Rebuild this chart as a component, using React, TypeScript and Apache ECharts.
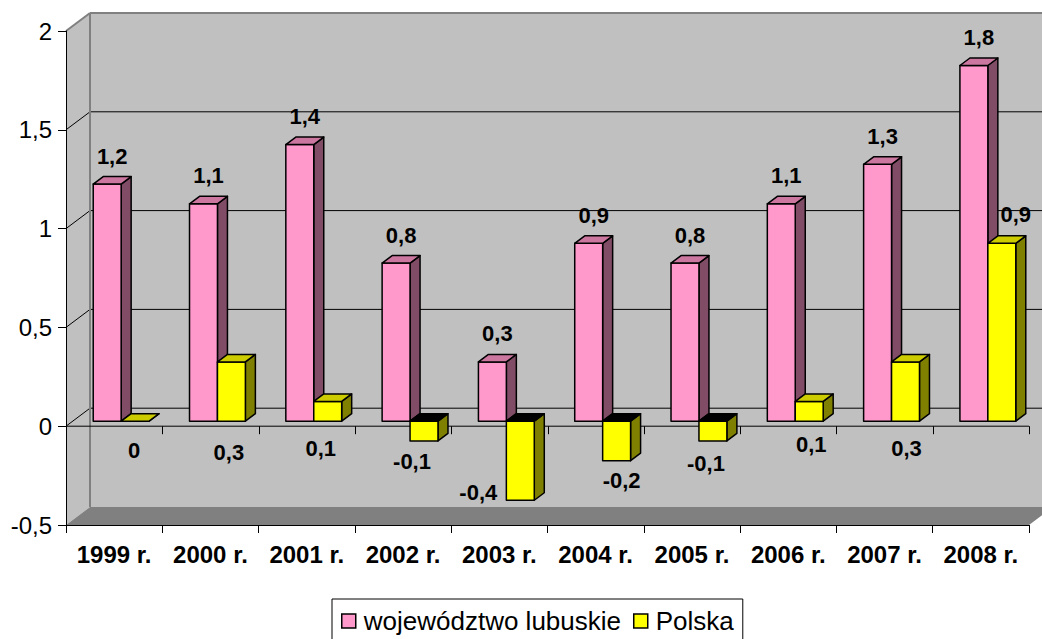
import React, { useEffect, useRef } from "react";
import * as echarts from "echarts";

// ---------- data ----------
const categories = ["1999 r.", "2000 r.", "2001 r.", "2002 r.", "2003 r.", "2004 r.", "2005 r.", "2006 r.", "2007 r.", "2008 r."];
const lubuskie = [1.2, 1.1, 1.4, 0.8, 0.3, 0.9, 0.8, 1.1, 1.3, 1.8];
const polska = [0, 0.3, 0.1, -0.1, -0.4, -0.2, -0.1, 0.1, 0.3, 0.9];
const seriesNames = ["województwo lubuskie", "Polska"];
const Y_MIN = -0.5;
const Y_MAX = 2;
const Y_STEP = 0.5;
const gridValues = [0, 0.5, 1, 1.5];

// ---------- layout / style ----------
const FONT = '"Liberation Sans", Arial, sans-serif';
const DEPTH = { dx: 24, dy: -18 };
const BAR_OFF = { dx: 7, dy: -5 };
const BAR_DEPTH = { dx: 10, dy: -7.5 };
const BAR_W = 0.29;
const PINK_LABEL = { dx: 5, dy: -28 };
// label offsets (px) for the "Polska" labels, relative to the bar's zero level
const polskaLabelShift = [
  [-1, 29], [-2.5, 31], [-7, 27], [-12, 40], [-42, 71],
  [5, 59], [-7, 42], [2, 23], [1, 27], [14, -207],
];
const COLORS = [
  { front: "#ff99cc", top: "#cc77a0", side: "#804c66" },
  { front: "#ffff00", top: "#cccc00", side: "#808000" },
];

const fmt = (v: number) => String(v).replace(".", ",");

function renderFrame(params: any, api: any) {
  const cs = params.coordSys;
  const x0 = cs.x;
  const x1 = cs.x + cs.width;
  const yT = api.coord([0, Y_MAX])[1];
  const yB = api.coord([0, Y_MIN])[1];
  const y0 = api.coord([0, 0])[1];
  const band = api.size([1, 0])[0];
  const { dx, dy } = DEPTH;
  const children: any[] = [];
  children.push({
    type: "polygon",
    shape: { points: [[x0 + dx, yT + dy], [x1 + dx, yT + dy], [x1 + dx, yB + dy], [x0 + dx, yB + dy]] },
    style: { fill: "#c0c0c0" },
  });
  children.push({
    type: "polygon",
    shape: { points: [[x0, yT], [x0 + dx, yT + dy], [x0 + dx, yB + dy], [x0, yB]] },
    style: { fill: "#c0c0c0" },
  });
  children.push({
    type: "polygon",
    shape: { points: [[x0, yB], [x0 + dx, yB + dy], [x1 + dx, yB + dy], [x1, yB]] },
    style: { fill: "#808080" },
  });
  gridValues.forEach((v) => {
    const y = api.coord([0, v])[1];
    children.push({
      type: "line",
      shape: { x1: x0 + dx, y1: y + dy, x2: x1 + dx, y2: y + dy },
      style: { stroke: "#000", lineWidth: 1 },
    });
    children.push({
      type: "line",
      shape: { x1: x0, y1: y, x2: x0 + dx, y2: y + dy },
      style: { stroke: "#000", lineWidth: 1 },
    });
  });
  const edge = { stroke: "#808080", lineWidth: 2 };
  children.push({ type: "line", shape: { x1: x0 + dx, y1: yT + dy, x2: x1 + dx, y2: yT + dy }, style: edge });
  children.push({ type: "line", shape: { x1: x0 + dx, y1: yT + dy, x2: x0 + dx, y2: yB + dy }, style: edge });
  children.push({ type: "line", shape: { x1: x0, y1: yT, x2: x0 + dx, y2: yT + dy }, style: edge });
  // front zero line with ticks
  children.push({ type: "line", shape: { x1: x0, y1: y0, x2: x1, y2: y0 }, style: { stroke: "#000", lineWidth: 1 } });
  for (let k = 1; k <= categories.length; k++) {
    const x = Math.round(x0 + k * band) + 0.5;
    children.push({ type: "line", shape: { x1: x, y1: y0, x2: x, y2: y0 + 8 }, style: { stroke: "#000", lineWidth: 1 } });
  }
  return { type: "group", children };
}

function makeBarRender(sIdx: number) {
  return (params: any, api: any) => {
    const i = api.value(0);
    const v = api.value(1);
    const c0 = api.coord([i, 0]);
    const cv = api.coord([i, v]);
    const band = api.size([1, 0])[0];
    const w = band * BAR_W;
    const x = c0[0] + (sIdx === 0 ? -w : 0) + BAR_OFF.dx;
    const yz = c0[1] + BAR_OFF.dy;
    const yv = cv[1] + BAR_OFF.dy;
    const top = Math.min(yz, yv);
    const bot = Math.max(yz, yv);
    const ddx = BAR_DEPTH.dx;
    const ddy = BAR_DEPTH.dy;
    const col = COLORS[sIdx];
    const line = { stroke: "#000", lineWidth: 1.5, lineJoin: "round" };
    const children: any[] = [];
    children.push({
      type: "polygon",
      shape: { points: [[x + w, top], [x + w + ddx, top + ddy], [x + w + ddx, bot + ddy], [x + w, bot]] },
      style: { fill: col.side, ...line },
    });
    if (bot - top > 0.5) {
      children.push({
        type: "rect",
        shape: { x, y: top, width: w, height: bot - top },
        style: { fill: col.front, ...line },
      });
    }
    children.push({
      type: "polygon",
      shape: { points: [[x, top], [x + ddx, top + ddy], [x + w + ddx, top + ddy], [x + w, top]] },
      style: { fill: v < 0 ? "#000" : col.top, ...line },
    });
    let lx: number;
    let ly: number;
    if (sIdx === 0) {
      lx = x + w / 2 + PINK_LABEL.dx;
      ly = yv + PINK_LABEL.dy;
    } else {
      const s = polskaLabelShift[i];
      lx = x + w / 2 + s[0];
      ly = yz + s[1];
    }
    children.push({
      type: "text",
      x: lx,
      y: ly,
      style: {
        text: fmt(v),
        fill: "#000",
        fontSize: 22,
        fontWeight: "bold",
        fontFamily: FONT,
        align: "center",
        verticalAlign: "middle",
        textAlign: "center",
        textVerticalAlign: "middle",
      },
    });
    return { type: "group", children };
  };
}

export default function App() {
  const ref = useRef<HTMLDivElement>(null);
  useEffect(() => {
    document.body.style.margin = "0";
    if (!ref.current) return;
    const chart = echarts.init(ref.current, undefined, { renderer: "svg" });
    chart.setOption({
      animation: false,
      backgroundColor: "#ffffff",
      grid: { left: 66, right: 13, top: 31, bottom: 114, containLabel: false },
      xAxis: {
        type: "category",
        data: categories,
        z: 10,
        axisLine: { onZero: false, lineStyle: { color: "#000", width: 1 } },
        axisTick: { show: true, length: 8, lineStyle: { color: "#000" } },
        axisLabel: { fontSize: 24, fontWeight: "bold", fontFamily: FONT, color: "#000", margin: 17, interval: 0 },
        splitLine: { show: false },
      },
      yAxis: {
        type: "value",
        min: Y_MIN,
        max: Y_MAX,
        interval: Y_STEP,
        z: 10,
        axisLine: { show: true, lineStyle: { color: "#000", width: 1 } },
        axisTick: { show: true, length: 8, lineStyle: { color: "#000" } },
        axisLabel: { fontSize: 24, fontFamily: FONT, color: "#000", margin: 14, formatter: (v: number) => fmt(v) },
        splitLine: { show: false },
      },
      legend: {
        data: [
          { name: seriesNames[0], itemStyle: { color: COLORS[0].front, borderColor: "#000", borderWidth: 1.5 } },
          { name: seriesNames[1], itemStyle: { color: COLORS[1].front, borderColor: "#000", borderWidth: 1.5 } },
        ],
        left: 332,
        top: 599,
        orient: "horizontal",
        icon: "rect",
        itemWidth: 14,
        itemHeight: 14,
        itemGap: 12,
        padding: [9, 9, 12, 9],
        borderColor: "#000",
        borderWidth: 1,
        backgroundColor: "#fff",
        selectedMode: false,
        textStyle: { fontSize: 26, fontFamily: FONT, color: "#000", padding: [0, 0, 0, 3] },
      },
      series: [
        {
          type: "custom",
          name: "frame",
          silent: true,
          z: 1,
          renderItem: renderFrame,
          data: [[0, 0]],
        },
        {
          type: "custom",
          name: seriesNames[0],
          z: 3,
          itemStyle: { color: COLORS[0].front },
          renderItem: makeBarRender(0),
          data: lubuskie.map((v, i) => [i, v]),
        },
        {
          type: "custom",
          name: seriesNames[1],
          z: 4,
          itemStyle: { color: COLORS[1].front },
          renderItem: makeBarRender(1),
          data: polska.map((v, i) => [i, v]),
        },
      ],
    });
    return () => chart.dispose();
  }, []);
  return <div ref={ref} style={{ width: 1042, height: 639 }} />;
}
